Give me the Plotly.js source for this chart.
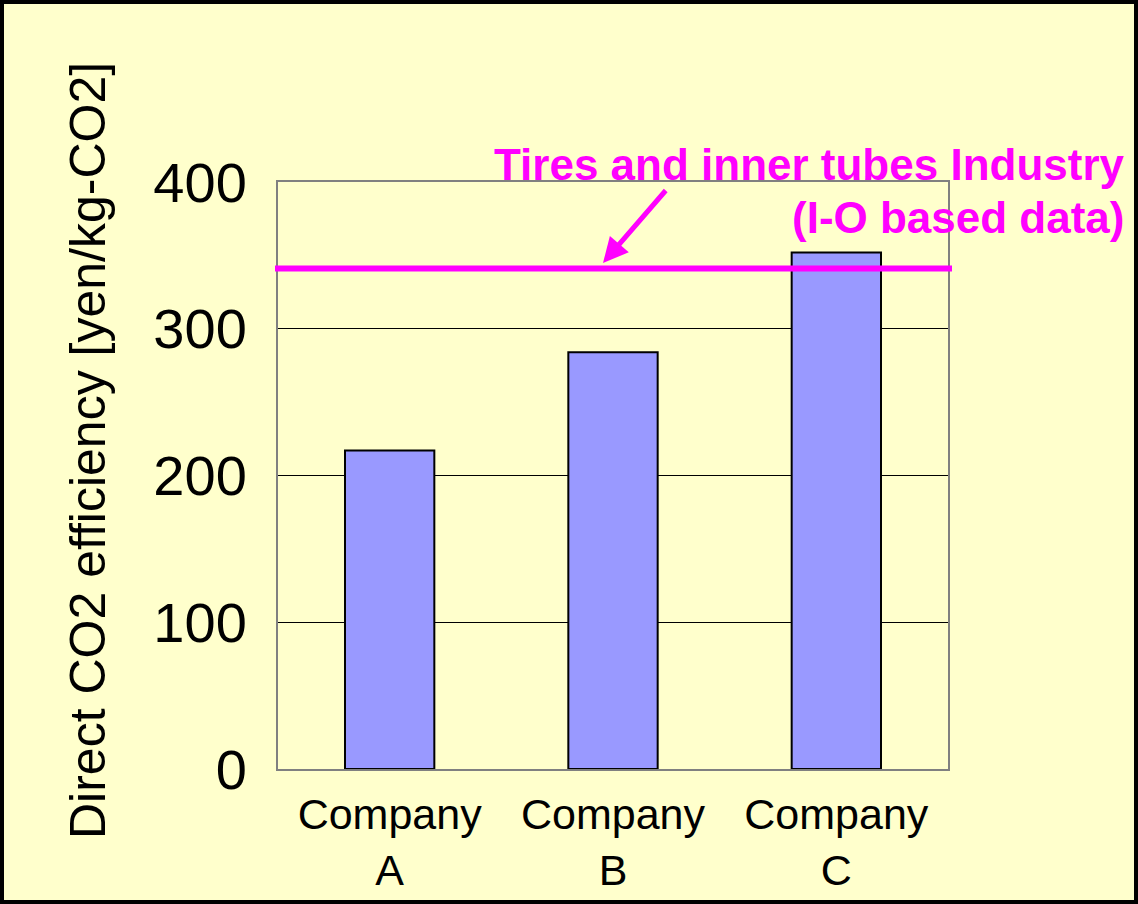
<!DOCTYPE html>
<html>
<head>
<meta charset="utf-8">
<script src="https://cdn.plot.ly/plotly-3.0.1.min.js"></script>
<style>
html,body{margin:0;padding:0;background:#FFFFCC;}
#chart{width:1138px;height:904px;}
</style>
</head>
<body>
<div id="chart"></div>
<script>
const categories = ["Company<br>A", "Company<br>B", "Company<br>C"];
const efficiency = [217, 284, 352];
const industryLine = [341];
const industryLabel = ["Tires and inner tubes Industry", "(I-O based data)"];
const yTitle = "Direct CO2 efficiency [yen/kg-CO2]";
const yTicks = [0, 100, 200, 300, 400];

const W = 1138, H = 904;
const L = 278, R = 190, T = 182, B = 135;
const pw = W - L - R, ph = H - T - B;
const px = v => (v - L) / pw;
const py = v => (H - B - v) / ph;

const trace = {
  type: "bar",
  x: categories,
  y: efficiency,
  width: 0.4,
  marker: {color: "#9999FF", line: {color: "#000000", width: 2}},
  hoverinfo: "x+y"
};

const layout = {
  width: W, height: H,
  margin: {l: L, r: R, t: T, b: B, pad: 0},
  paper_bgcolor: "#FFFFCC",
  plot_bgcolor: "#FFFFCC",
  showlegend: false,
  font: {family: "Liberation Sans, Arial, sans-serif", color: "#000"},
  xaxis: {
    type: "category",
    showline: true, mirror: true, linecolor: "#808080", linewidth: 2,
    showgrid: false, ticks: "", ticklabelstandoff: 6,
    tickfont: {size: 43, family: "Liberation Sans, Arial, sans-serif", color: "#000"}
  },
  yaxis: {
    range: [0, 400], tickvals: yTicks, ticktext: yTicks.map(String),
    showline: true, mirror: true, linecolor: "#808080", linewidth: 2,
    showgrid: true, gridcolor: "#000000", gridwidth: 1, zeroline: false,
    ticks: "", ticklabelstandoff: 18,
    tickfont: {size: 56, family: "Liberation Sans, Arial, sans-serif", color: "#000"}
  },
  shapes: [
    {type: "line", xref: "paper", yref: "y", x0: px(275), x1: px(952), y0: industryLine[0], y1: industryLine[0],
     line: {color: "#FF00FF", width: 6}},
    {type: "rect", xref: "paper", yref: "paper", x0: px(2), x1: px(1136), y0: py(902), y1: py(2),
     line: {color: "#000000", width: 4}, fillcolor: "rgba(0,0,0,0)", layer: "above"}
  ],
  annotations: [
    {text: yTitle, textangle: -90, xref: "paper", yref: "paper", x: px(88), y: py(451),
     xanchor: "center", yanchor: "middle", showarrow: false,
     font: {size: 50, family: "Liberation Sans, Arial, sans-serif", color: "#000"}},
    {text: "<b>" + industryLabel[0] + "</b>", xref: "paper", yref: "paper", x: px(1127), y: py(164),
     xanchor: "right", yanchor: "middle", showarrow: false,
     font: {size: 44, family: "Liberation Sans, Arial, sans-serif", color: "#FF00FF"}},
    {text: "<b>" + industryLabel[1] + "</b>", xref: "paper", yref: "paper", x: px(1127), y: py(217),
     xanchor: "right", yanchor: "middle", showarrow: false,
     font: {size: 44, family: "Liberation Sans, Arial, sans-serif", color: "#FF00FF"}},
    {text: "", xref: "paper", yref: "paper", x: px(603), y: py(263),
     showarrow: true, arrowhead: 2, arrowsize: 1, arrowwidth: 5, arrowcolor: "#FF00FF",
     ax: 64, ay: -74, standoff: 0}
  ]
};

Plotly.newPlot("chart", [trace], layout, {displayModeBar: false, staticPlot: true});
</script>
</body>
</html>
